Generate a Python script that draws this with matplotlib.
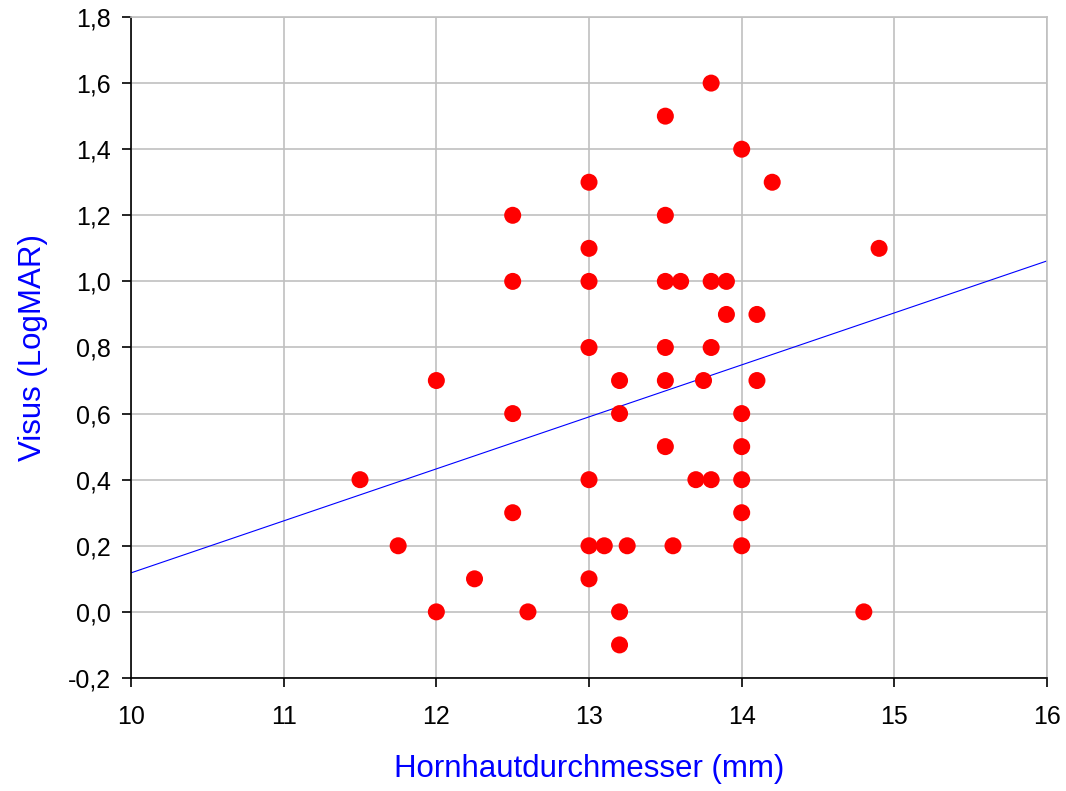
import matplotlib
matplotlib.use("Agg")
import matplotlib.pyplot as plt
from matplotlib.ticker import FuncFormatter, MultipleLocator

plt.rcParams["font.family"] = ["Liberation Sans", "DejaVu Sans"]

# ==== DATEN ====
diameter = [11.5, 11.75, 12.0, 12.0, 12.25,
            12.5, 12.5, 12.5, 12.5, 12.6,
            13.0, 13.0, 13.0, 13.0, 13.0, 13.0, 13.0,
            13.1, 13.2, 13.2, 13.2, 13.2, 13.25,
            13.5, 13.5, 13.5, 13.5, 13.5, 13.5, 13.55, 13.6,
            13.7, 13.75, 13.8, 13.8, 13.8, 13.8, 13.9, 13.9,
            14.0, 14.0, 14.0, 14.0, 14.0, 14.0,
            14.1, 14.1, 14.2, 14.8, 14.9]
visus = [0.4, 0.2, 0.7, 0.0, 0.1,
         1.2, 1.0, 0.6, 0.3, 0.0,
         1.3, 1.1, 1.0, 0.8, 0.4, 0.2, 0.1,
         0.2, 0.7, 0.6, 0.0, -0.1, 0.2,
         1.5, 1.2, 1.0, 0.8, 0.7, 0.5, 0.2, 1.0,
         0.4, 0.7, 1.6, 1.0, 0.8, 0.4, 1.0, 0.9,
         1.4, 0.6, 0.5, 0.4, 0.3, 0.2,
         0.9, 0.7, 1.3, 0.0, 1.1]

# Regressionsgerade
fit_x = [10, 16]
fit_y = [0.118, 1.062]

fig = plt.figure(figsize=(10.66, 7.91), dpi=100)
ax = fig.add_axes([0.1229, 0.1429, 0.8593, 0.8356])

ax.plot(fit_x, fit_y, color="blue", linewidth=0.8, zorder=2)
ax.scatter(diameter, visus, s=150, color="red", edgecolors="none", zorder=3, clip_on=False)

ax.set_xlim(10, 16)
ax.set_ylim(-0.2, 1.8)
ax.xaxis.set_major_locator(MultipleLocator(1))
ax.yaxis.set_major_locator(MultipleLocator(0.2))
ax.yaxis.set_major_formatter(FuncFormatter(lambda v, p: f"{v:.1f}".replace(".", ",").replace("-0,0", "0,0")))

ax.grid(True, color="#c0c0c0", linewidth=1.2, zorder=0)
ax.set_axisbelow(True)
for s in ["top", "right"]:
    ax.spines[s].set_color("#c0c0c0")
    ax.spines[s].set_linewidth(1.2)
for s in ["left", "bottom"]:
    ax.spines[s].set_linewidth(1.2)

ax.tick_params(axis="both", direction="out", length=6.5, width=1.2, labelsize=18)
ax.tick_params(axis="y", pad=8)
ax.tick_params(axis="x", pad=13)

ax.set_xlabel("Hornhautdurchmesser (mm)", fontsize=22.5, color="blue", labelpad=18)
ax.set_ylabel("Visus (LogMAR)", fontsize=22.5, color="blue", labelpad=14)

plt.savefig("out.png", dpi=100)
plt.close(fig)
